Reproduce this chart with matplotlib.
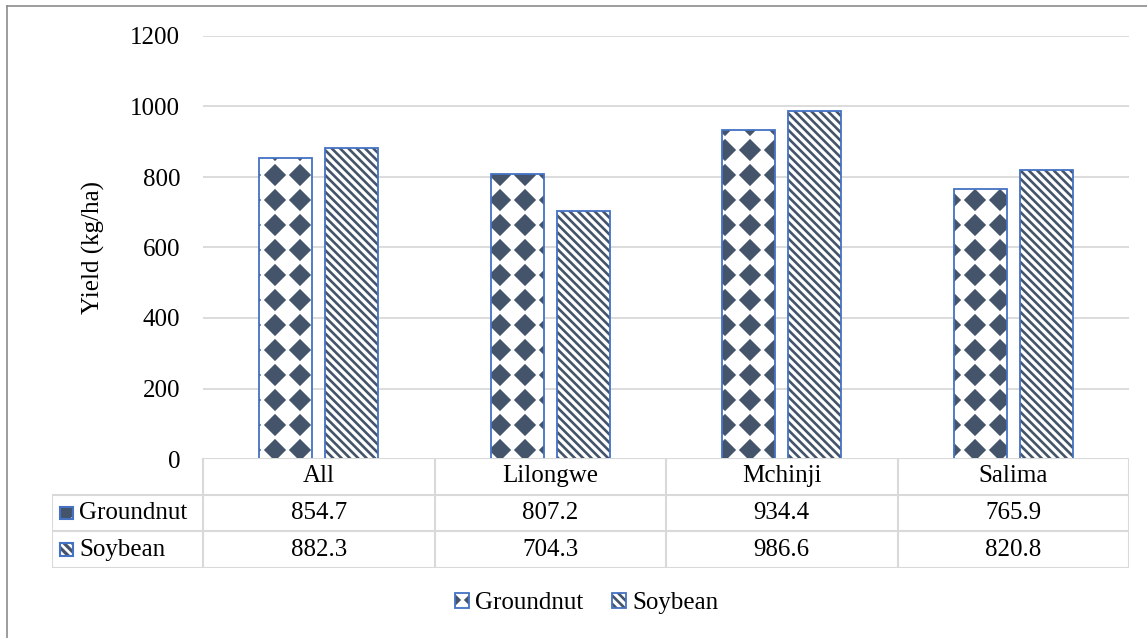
import warnings
import numpy as np
import matplotlib
matplotlib.use('agg')
import matplotlib.pyplot as plt
import matplotlib.hatch as mhatch
from matplotlib.path import Path
from matplotlib.patches import Rectangle
from matplotlib.lines import Line2D

warnings.filterwarnings('ignore', message='hatch must consist')

# yields (kg/ha) by district
districts = ['All', 'Lilongwe', 'Mchinji', 'Salima']
crops     = ['Groundnut', 'Soybean']
groundnut = [854.7, 807.2, 934.4, 765.9]
soybean   = [882.3, 704.3, 986.6, 820.8]
yticks    = [0, 200, 400, 600, 800, 1000, 1200]

navy  = '#44546A'
blue  = '#4472C4'
grid  = '#D9D9D9'
font  = 'Liberation Serif'
fs    = 18


class DiamondHatch(mhatch.HatchPatternBase):
    """filled diamonds on a square grid, 4 per inch for each 'd'"""
    def __init__(self, hatch, density):
        self.num_rows = 4 * hatch.count('d')
        self.num_vertices = 5 * (self.num_rows + 1) ** 2 if self.num_rows else 0

    def set_vertices_and_codes(self, vertices, codes):
        step = 1.0 / self.num_rows
        r = 0.37 * step
        shape = np.array([[0, r], [r, 0], [0, -r], [-r, 0], [0, r]])
        centers = [(c * step, row * step)
                   for row in range(self.num_rows + 1)
                   for c in range(self.num_rows + 1)]
        vertices[:] = np.concatenate([shape + np.array(c) for c in centers])
        one = [Path.MOVETO, Path.LINETO, Path.LINETO, Path.LINETO, Path.CLOSEPOLY]
        codes[:] = np.tile(one, len(centers))


mhatch._hatch_types.append(DiamondHatch)

plt.rcParams['font.family'] = [font, 'DejaVu Serif']
plt.rcParams['hatch.linewidth'] = 1.9

hatches = {'Groundnut': 'd', 'Soybean': '\\\\\\\\'}
series  = {'Groundnut': groundnut, 'Soybean': soybean}

W, H = 1147, 638
fig = plt.figure(figsize=(W / 100, H / 100), dpi=100)

# plot area in pixels: x 203..1129, y 36..459
ax = fig.add_axes([203 / W, 1 - 459 / H, 926 / W, 423 / H])
x = np.arange(len(districts))
bw = 0.229
offs = {'Groundnut': -0.143, 'Soybean': 0.143}
handles = []
for c in crops:
    hb = ax.bar(x + offs[c], series[c], bw, color='white', edgecolor=navy,
                hatch=hatches[c], linewidth=0, zorder=2)
    ob = ax.bar(x + offs[c], series[c], bw, fill=False, edgecolor=blue,
                linewidth=1.3, zorder=3)
    handles.append((hb, ob))

ax.set_xlim(-0.5, len(districts) - 0.5)
ax.set_ylim(0, 1200)
ax.set_yticks(yticks)
ax.set_xticks([])
ax.tick_params(axis='y', length=0, pad=16.5, labelsize=fs)
ax.yaxis.grid(True, color=grid, linewidth=1.3, zorder=0)
ax.set_axisbelow(True)
for s in ax.spines.values():
    s.set_visible(False)
ax.text(-0.118, 0.5, 'Yield (kg/ha)', transform=ax.transAxes, rotation=90,
        ha='center', va='center', fontsize=fs)

# data table under the plot, sharing the category x scale
px = 926 / len(districts)            # pixels per category
lab_w = 151 / px                     # row label column width in category units
lab_left = -0.5 - lab_w
tax = fig.add_axes([52 / W, 1 - 568 / H, 1077 / W, 110 / H])
tax.set_xlim(lab_left, len(districts) - 0.5)
tax.set_ylim(3, 0)
tax.axis('off')

lk = dict(color=grid, linewidth=1.5, solid_capstyle='projecting')
right = len(districts) - 0.5
tax.plot([-0.5, right], [0, 0], **lk)
for r in (1, 2, 3):
    tax.plot([lab_left, right], [r, r], **lk)
for b in np.arange(len(districts) + 1) - 0.5:
    tax.plot([b, b], [0, 3], **lk)
tax.plot([lab_left, lab_left], [1, 3], **lk)

for i, d in enumerate(districts):
    tax.text(i, 0.5, d, ha='center', va='center', fontsize=fs)
for r, c in enumerate(crops, start=1):
    for i, v in enumerate(series[c]):
        tax.text(i, r + 0.5, f'{v:.1f}', ha='center', va='center', fontsize=fs)
    kx = lab_left + 8 / px
    kw, kh = 13 / px, 13 / 36.7
    tax.add_patch(Rectangle((kx, r + 0.5 - kh / 2), kw, kh, facecolor=navy,
                            edgecolor='white', hatch=hatches[c], linewidth=0))
    tax.add_patch(Rectangle((kx, r + 0.5 - kh / 2), kw, kh, fill=False,
                            edgecolor=blue, linewidth=1.5))
    tax.text(lab_left + 27 / px, r + 0.5, c, ha='left', va='center', fontsize=fs)

fig.legend(handles, crops, loc='center', bbox_to_anchor=(587 / W, 1 - 603 / H),
           ncol=2, frameon=False, fontsize=fs, handlelength=0.55,
           handleheight=0.55, handletextpad=0.25, columnspacing=1.15)

# chart area border (left and top edges fall inside the image)
fig.add_artist(Line2D([7 / W, 7 / W], [0, 1 - 6 / H], color='#8C8C8C',
                      linewidth=1.2, transform=fig.transFigure))
fig.add_artist(Line2D([7 / W, 1], [1 - 6 / H, 1 - 6 / H], color='#8C8C8C',
                      linewidth=1.2, transform=fig.transFigure))

fig.savefig('out.png', dpi=100)
